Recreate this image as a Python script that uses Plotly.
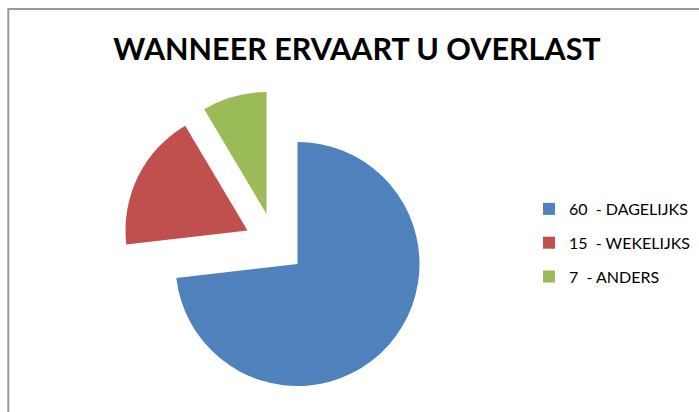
import plotly.graph_objects as go

# ---- data ----
labels = ["60 \u00a0- DAGELIJKS", "15 \u00a0- WEKELIJKS", "7 \u00a0- ANDERS"]
values = [60, 15, 7]
colors = ["#4F81BD", "#C0504D", "#9BBB59"]
title_text = "WANNEER ERVAART U OVERLAST"

W, H = 699, 412
R = 122  # pie radius in px
# slice centres (apex) in px: blue in place, red and green exploded
centres = [(297.5, 264.0), (247.5, 230.5), (266.5, 214.0)]

def domain_for(cx, cy, r):
    return dict(x=[(cx - r) / W, (cx + r) / W],
                y=[1 - (cy + r) / H, 1 - (cy - r) / H])

fig = go.Figure()
transparent = "rgba(0,0,0,0)"
for i, (cx, cy) in enumerate(centres):
    cols = [colors[k] if k == i else transparent for k in range(len(values))]
    fig.add_trace(go.Pie(
        labels=labels, values=values, sort=False, direction="clockwise",
        rotation=0, marker=dict(colors=cols, line=dict(width=0)),
        textinfo="none", hoverinfo="skip", showlegend=False,
        domain=domain_for(cx, cy, R),
    ))

# legend-only traces (practically zero-size)
for i in range(len(values)):
    fig.add_trace(go.Pie(
        labels=[labels[i]], values=[values[i]],
        marker=dict(colors=[colors[i]], line=dict(width=0)),
        textinfo="none", hoverinfo="skip", showlegend=True,
        legendgroup="g%d" % i,
        domain=dict(x=[0.0, 0.00005], y=[0.0, 0.00005]),
    ))

FONT = "Lato, Roboto, Open Sans, sans-serif"
fig.update_layout(
    width=W, height=H,
    margin=dict(l=0, r=0, t=0, b=0),
    paper_bgcolor="white", plot_bgcolor="white",
    title=dict(text="<b>%s</b>" % title_text, x=357 / W, xanchor="center",
               y=1 - 49 / H, yanchor="middle", yref="container",
               font=dict(family=FONT, size=30.5, color="#000000")),
    legend=dict(x=529 / W, xanchor="left", y=1 - 243 / H, yanchor="middle",
                traceorder="grouped", tracegroupgap=10,
                font=dict(family=FONT, size=16, color="#000000"),
                bgcolor="rgba(0,0,0,0)"),
    shapes=[dict(type="rect", xref="paper", yref="paper",
                 x0=8.3 / W, x1=1.2, y0=-0.2, y1=1 - 9 / H,
                 line=dict(color="#9A9A9A", width=2), layer="below")],
)

fig.write_html("out.html", config={"displayModeBar": False},
               post_script="document.body.style.margin='0';")
